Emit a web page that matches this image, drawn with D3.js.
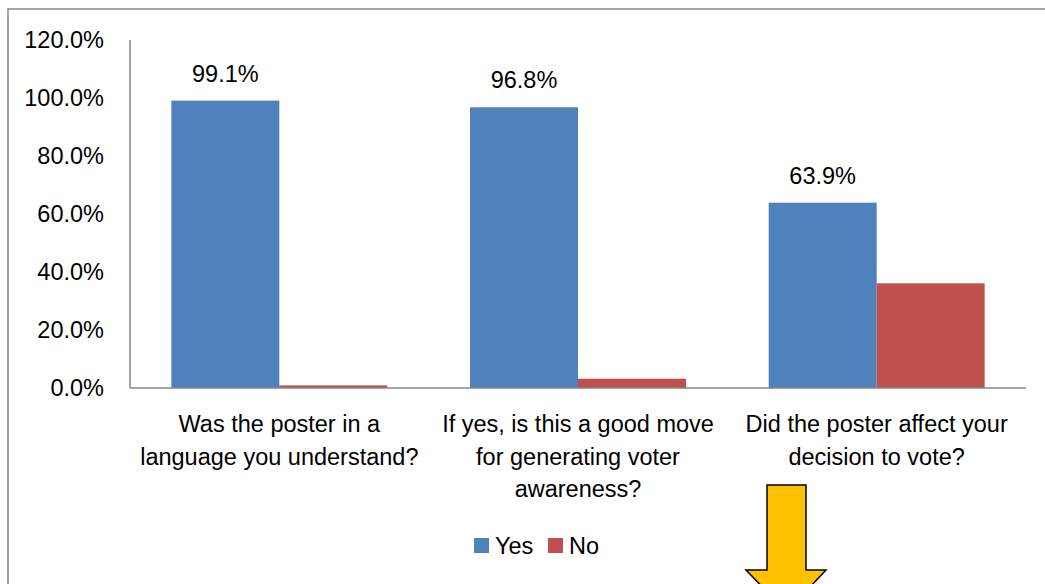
<!DOCTYPE html>
<html>
<head>
<meta charset="utf-8">
<script src="https://cdn.jsdelivr.net/npm/d3@7"></script>
<style>
  body { margin: 0; background: #fff; }
  svg text { font-family: "Liberation Sans", Arial, sans-serif; fill: #000; }
</style>
</head>
<body>
<div id="chart"></div>
<script>
var categories = [
  ["Was the poster in a", "language you understand?"],
  ["If yes, is this a good move", "for generating voter", "awareness?"],
  ["Did the poster affect your", "decision to vote?"]
];
var seriesNames = ["Yes", "No"];
var yesValues = [0.991, 0.968, 0.639];
var noValues = [0.009, 0.032, 0.361];
var yTicks = [0, 0.2, 0.4, 0.6, 0.8, 1.0, 1.2];
var colors = ["#4F81BD", "#C0504D"];

var width = 1045, height = 584;
var fontSize = 23.5;

var svg = d3.select("#chart").append("svg")
  .attr("width", width).attr("height", height);

// chart frame
svg.append("rect")
  .attr("x", 8).attr("y", 9)
  .attr("width", 1060).attr("height", 620)
  .attr("fill", "#fff")
  .attr("stroke", "#888").attr("stroke-width", 1.5);

var plotLeft = 130, plotRight = 1026, plotTop = 40, plotBottom = 388;

var y = d3.scaleLinear().domain([0, 1.2]).range([plotBottom, plotTop]);
var x = d3.scaleBand().domain(d3.range(categories.length))
  .range([plotLeft, plotRight]).paddingInner(0).paddingOuter(0);
var xs = d3.scaleBand().domain(seriesNames)
  .range([0, x.bandwidth()]).paddingInner(0).paddingOuter(0.383);

var fmt = d3.format(".1%");

// y labels
svg.append("g").selectAll("text")
  .data(yTicks)
  .enter().append("text")
  .attr("x", 104)
  .attr("y", function(d) { return y(d); })
  .attr("dy", "0.36em")
  .attr("text-anchor", "end")
  .style("font-size", fontSize + "px")
  .text(function(d) { return fmt(d); });

// bars
var rows = categories.map(function(c, i) {
  return [{s: "Yes", v: yesValues[i], i: i}, {s: "No", v: noValues[i], i: i}];
});

var group = svg.append("g").selectAll("g")
  .data(rows)
  .enter().append("g")
  .attr("transform", function(d, i) { return "translate(" + x(i) + ",0)"; });

group.selectAll("rect")
  .data(function(d) { return d; })
  .enter().append("rect")
  .attr("x", function(d) { return xs(d.s); })
  .attr("width", xs.bandwidth())
  .attr("y", function(d) { return y(d.v); })
  .attr("height", function(d) { return plotBottom - y(d.v); })
  .attr("fill", function(d) { return d.s == "Yes" ? colors[0] : colors[1]; });

// data labels (Yes only)
group.selectAll("text.lbl")
  .data(function(d) { return d.filter(function(e) { return e.s == "Yes"; }); })
  .enter().append("text")
  .attr("class", "lbl")
  .attr("x", function(d) { return xs(d.s) + xs.bandwidth() / 2; })
  .attr("y", function(d) { return y(d.v) - 19; })
  .attr("text-anchor", "middle")
  .style("font-size", fontSize + "px")
  .text(function(d) { return fmt(d.v); });

// axes lines
svg.append("line")
  .attr("x1", plotLeft).attr("x2", plotLeft)
  .attr("y1", plotTop).attr("y2", plotBottom)
  .attr("stroke", "#868686").attr("stroke-width", 1.5);
svg.append("line")
  .attr("x1", plotLeft).attr("x2", plotRight)
  .attr("y1", plotBottom).attr("y2", plotBottom)
  .attr("stroke", "#868686").attr("stroke-width", 1.5);

// category labels
var cat = svg.append("g").selectAll("text")
  .data(categories)
  .enter().append("text")
  .attr("text-anchor", "middle")
  .style("font-size", fontSize + "px");
cat.selectAll("tspan")
  .data(function(d, i) { return d.map(function(t) { return {t: t, i: i}; }); })
  .enter().append("tspan")
  .attr("x", function(d) { return x(d.i) + x.bandwidth() / 2; })
  .attr("y", function(d, k) { return 432 + k * 32.5; })
  .text(function(d) { return d.t; });

// legend
var legend = svg.append("g");
var legX = [474, 548];
seriesNames.forEach(function(s, k) {
  legend.append("rect")
    .attr("x", legX[k]).attr("y", 538)
    .attr("width", 15).attr("height", 15)
    .attr("fill", colors[k]);
  legend.append("text")
    .attr("x", legX[k] + 21).attr("y", 554)
    .style("font-size", fontSize + "px")
    .text(s);
});

// yellow arrow
var arrow = [[767, 485], [806, 485], [806, 570], [826, 570], [786.5, 612], [746, 570], [767, 570]];
svg.append("path")
  .attr("d", d3.line()(arrow) + "Z")
  .attr("fill", "#FFC000")
  .attr("stroke", "#000")
  .attr("stroke-width", 1.5);
</script>
</body>
</html>
